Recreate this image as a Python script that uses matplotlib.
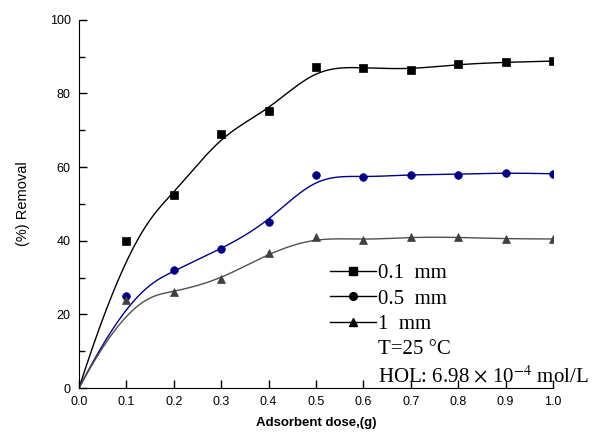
import matplotlib
matplotlib.use('Agg')
import matplotlib.pyplot as plt
import numpy as np
from matplotlib.lines import Line2D
from matplotlib.ticker import MultipleLocator

# data
dose = [0.0, 0.1, 0.2, 0.3, 0.4, 0.5, 0.6, 0.7, 0.8, 0.9, 1.0]
rem_01 = [0.0, 40.0, 52.5, 69.0, 75.3, 87.3, 87.0, 86.5, 88.0, 88.5, 88.8]
rem_05 = [0.0, 25.0, 32.0, 37.7, 45.0, 58.0, 57.2, 58.0, 58.0, 58.5, 58.2]
rem_1 = [0.0, 24.0, 26.0, 29.5, 36.7, 41.0, 40.2, 41.0, 41.0, 40.5, 40.5]
labels = ['0.1  mm', '0.5  mm', '1  mm']


# clamped cubic B-spline using the data points as control points
def bspline( px, py, degree=3, count=300 ) :
    n = len(px)
    inner = np.arange(1, n - degree)
    knots = np.concatenate([np.zeros(degree + 1), inner, np.full(degree + 1, n - degree)]).astype(float)
    t = np.linspace(0, n - degree, count)
    t[-1] -= 1e-9
    # degree 0 basis
    B = np.zeros((count, len(knots) - 1))
    for i in range(len(knots) - 1):
        B[:, i] = (t >= knots[i]) & (t < knots[i + 1])
    # Cox-de Boor recursion
    for k in range(1, degree + 1):
        Bn = np.zeros((count, len(knots) - 1 - k))
        for i in range(len(knots) - 1 - k):
            d1 = knots[i + k] - knots[i]
            d2 = knots[i + k + 1] - knots[i + 1]
            a = (t - knots[i]) / d1 * B[:, i] if d1 > 0 else 0
            b = (knots[i + k + 1] - t) / d2 * B[:, i + 1] if d2 > 0 else 0
            Bn[:, i] = a + b
        B = Bn
    return B @ np.asarray(px), B @ np.asarray(py)


plt.rcParams['mathtext.fontset'] = 'stix'

fig = plt.figure(figsize=(5.94, 4.41), dpi=100)
ax = fig.add_axes([0.133, 0.12, 0.798, 0.835])

series = [(rem_01, 'black', 'black', 's'),
          (rem_05, '#000080', '#000080', 'o'),
          (rem_1, '#505050', '#404040', '^')]

handles = []
for (vals, lc, mc, mk), lab in zip(series, labels):
    cx, cy = bspline(dose, vals)
    ax.plot(cx, cy, color=lc, linewidth=1.0)
    ax.plot(dose[1:], vals[1:], linestyle='none', marker=mk, color=mc,
            markersize=5.5, markeredgewidth=0.5)
    handles.append(Line2D([], [], color='black', linewidth=1.0, marker=mk,
                          markersize=5.5, markerfacecolor='black', label=lab))

handles.append(Line2D([], [], linestyle='none', label='T=25 °C'))
handles.append(Line2D([], [], linestyle='none', label=r'HOL: 6.98 $\times$ 10$^{-4}$ mol/L'))

leg = ax.legend(handles=handles, loc='lower right', bbox_to_anchor=(1.115, -0.048),
                frameon=False, handlelength=2.2, handletextpad=0.1,
                labelspacing=0.28, prop={'family': 'Liberation Serif', 'size': 15})

ax.set_xlim(0, 1.0)
ax.set_ylim(0, 100)
ax.xaxis.set_major_locator(MultipleLocator(0.1))
ax.yaxis.set_major_locator(MultipleLocator(20))
ax.yaxis.set_minor_locator(MultipleLocator(10))
ax.spines['top'].set_visible(False)
ax.spines['right'].set_visible(False)
ax.tick_params(which='both', direction='in', labelsize=9, width=1)
ax.tick_params(which='major', length=6, pad=6)
ax.tick_params(which='minor', length=4)
for lab in ax.get_xticklabels() + ax.get_yticklabels():
    lab.set_family('Liberation Sans')

ax.set_xlabel('Adsorbent dose,(g)', fontweight='bold', family='Liberation Sans', fontsize=9.5, labelpad=6)
ax.set_ylabel('(%) Removal', family='Liberation Sans', fontsize=10.5, labelpad=14)

fig.savefig('out.png', dpi=100)
